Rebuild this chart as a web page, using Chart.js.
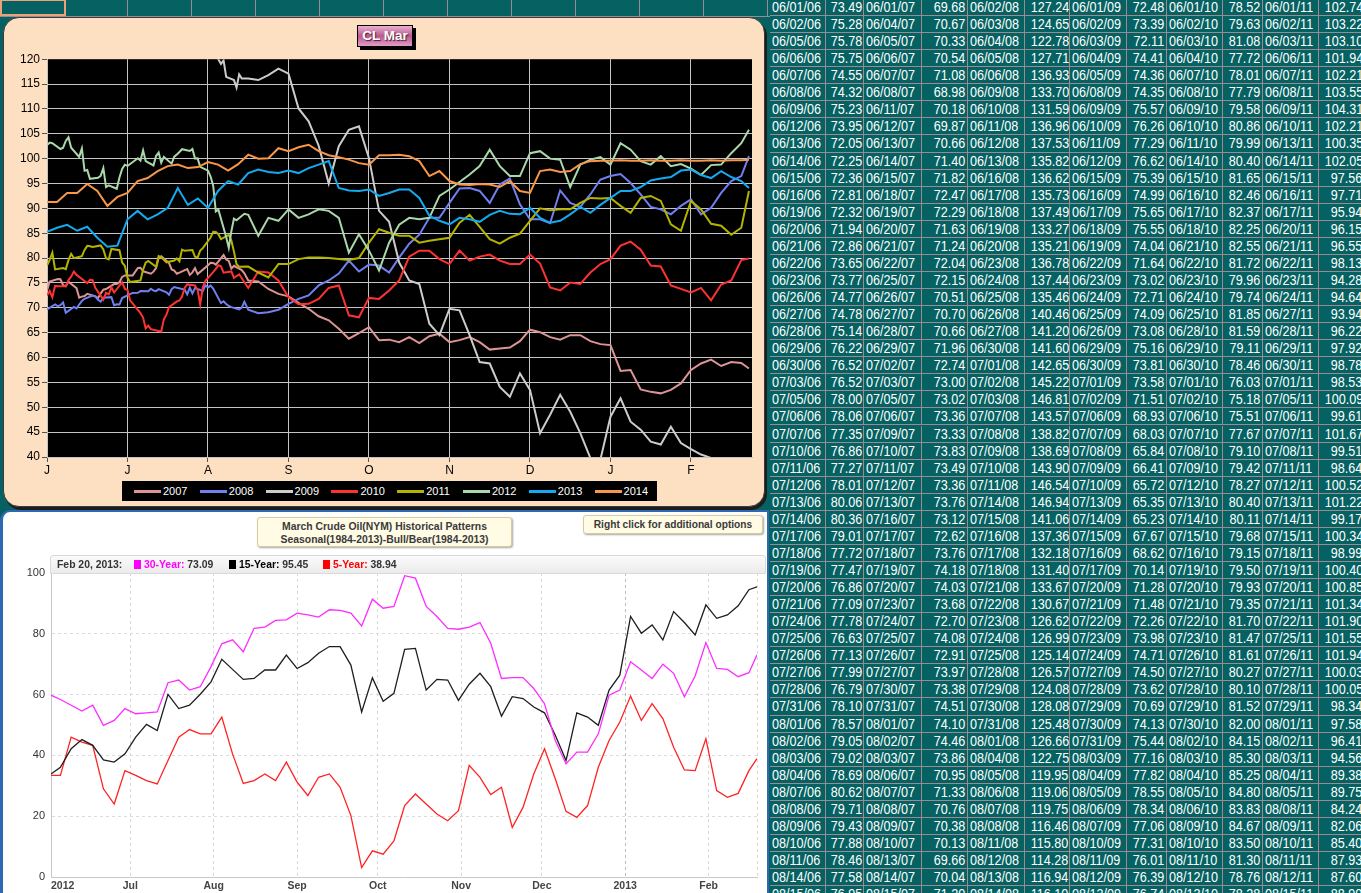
<!DOCTYPE html>
<html>
<head>
<meta charset="utf-8">
<title>CL Mar</title>
<script src="https://cdn.jsdelivr.net/npm/chart.js@4.4.1/dist/chart.umd.min.js"></script>
<style>
  html, body { margin: 0; padding: 0; }
  body { width: 1361px; height: 893px; overflow: hidden; position: relative; background: #066262; font-family: "Liberation Sans", Arial, sans-serif; }
  #topRow { position: absolute; left: 0; top: -1px; width: 770px; height: 18px; border-bottom: 1px solid #9c8a92; box-sizing: border-box; }
  #topRow div { position: absolute; top: 0; height: 17px; width: 64px; border-right: 1px solid #9c8a92; box-sizing: border-box; }
  #topRow .sel { border: 2px solid #e9a27a; width: 66px; }
  #sheet { position: absolute; left: 770px; top: 0; width: 600px; height: 893px; }
  .r { position: absolute; left: 0; width: 600px; height: 17.06px; border-bottom: 1px solid #9c8a92; box-sizing: border-box; }
  .c { position: absolute; top: 0; height: 100%; border-right: 1px solid #9c8a92; box-sizing: border-box; color: #fff; font-size: 14.5px; line-height: 16px; white-space: nowrap; overflow: hidden; }
  .c span { display: inline-block; transform: scaleX(.87); }
  .d { text-align: left; padding-left: 2px; }
  .d span { transform-origin: left center; }
  .v { text-align: right; padding-right: 2px; }
  .v span { transform-origin: right center; }

  #topPanel { position: absolute; left: 3px; top: 17px; width: 762px; height: 490px; background: #fde0c2; border: 1px solid #3a3a3a; border-radius: 16px; box-shadow: 2px 3px 0 #1d1d1d; box-sizing: border-box; }
  #clTitle { position: absolute; left: 357px; top: 25px; width: 56px; height: 22px; box-sizing: border-box; border: 1px solid #000; box-shadow: 3px 3px 0 #000;
             background: linear-gradient(#eab0d2, #b85a90 50%, #e29cc6); color: #fff; font-weight: bold; font-size: 13.5px; line-height: 20px; text-align: center; text-shadow: 1px 1px 1px #402030; }
  #topChart { position: absolute; left: 5px; top: 50px; }
  #topLegend { position: absolute; left: 122px; top: 481px; width: 535px; height: 20px; background: #000; }
  #topLegend .sw { position: absolute; top: 9px; width: 27px; height: 3px; }
  #topLegend .lb { position: absolute; top: 3px; color: #fff; font-size: 11px; line-height: 14px; }

  #bottomPanel { position: absolute; left: 0; top: 510px; width: 769px; height: 400px; background: #fff; border: 2px solid #2f68b2; border-left-width: 3px; border-top-left-radius: 10px; box-sizing: border-box; }
  .note { position: absolute; background: #fffbe4; border: 1px solid #d6cba0; border-radius: 3px; box-shadow: 1px 1px 2px rgba(0,0,0,.35); color: #3a3a3a; font-weight: bold; text-align: center; box-sizing: border-box; }
  #seasTitle { left: 257px; top: 517px; width: 255px; height: 30px; font-size: 10.4px; line-height: 13px; padding-top: 2px; }
  #rightClick { left: 583px; top: 515px; width: 180px; height: 19px; font-size: 10.2px; line-height: 17px; }
  #seasStrip { position: absolute; left: 50px; top: 555px; width: 716px; height: 19px; background: linear-gradient(#fbfbfb, #ebebeb); border: 1px solid #dadada; border-radius: 3px 3px 0 0; box-sizing: border-box; font-size: 10.4px; font-weight: bold; color: #333; }
  #seasStrip span { position: absolute; top: 3px; line-height: 12px; white-space: nowrap; }
  #seasStrip i { display: inline-block; width: 7px; height: 9px; margin-right: 3px; vertical-align: -1px; }
  #seasChart { position: absolute; left: 0; top: 560px; }
</style>
</head>
<body>
<div id="topRow"></div>
<div id="sheet"></div>

<div id="topPanel"></div>
<div id="clTitle">CL Mar</div>
<canvas id="topChart" width="755" height="427"></canvas>
<div id="topLegend"></div>

<div id="bottomPanel"></div>
<div class="note" id="seasTitle">March Crude Oil(NYM) Historical Patterns<br>Seasonal(1984-2013)-Bull/Bear(1984-2013)</div>
<div class="note" id="rightClick">Right click for additional options</div>
<canvas id="seasChart" width="767" height="333"></canvas>
<div id="seasStrip"></div>

<script>
// ---- top chart: CL Mar contracts, month letters on the axis
const monthLetters = ['J', 'J', 'A', 'S', 'O', 'N', 'D', 'J', 'F'];
const seriesNames = ['2007', '2008', '2009', '2010', '2011', '2012', '2013', '2014'];
const seriesColors = ['#dc9494', '#7080f0', '#cccccc', '#ff3232', '#b4b400', '#aad8aa', '#14aaf0', '#fa9648'];

// sheet columns (June - mid August)
const d2007 = ['06/01/06','06/02/06','06/05/06','06/06/06','06/07/06','06/08/06','06/09/06','06/12/06','06/13/06','06/14/06','06/15/06','06/16/06','06/19/06','06/20/06','06/21/06','06/22/06','06/23/06','06/26/06','06/27/06','06/28/06','06/29/06','06/30/06','07/03/06','07/05/06','07/06/06','07/07/06','07/10/06','07/11/06','07/12/06','07/13/06','07/14/06','07/17/06','07/18/06','07/19/06','07/20/06','07/21/06','07/24/06','07/25/06','07/26/06','07/27/06','07/28/06','07/31/06','08/01/06','08/02/06','08/03/06','08/04/06','08/07/06','08/08/06','08/09/06','08/10/06','08/11/06','08/14/06','08/15/06'];
const v2007 = [73.49,75.28,75.78,75.75,74.55,74.32,75.23,73.95,72.05,72.25,72.36,72.81,72.32,71.94,72.86,73.65,73.77,74.77,74.78,75.14,76.22,76.52,76.52,78.00,78.06,77.35,76.86,77.27,78.01,80.06,80.36,79.01,77.72,77.47,76.86,77.09,77.78,76.63,77.13,77.99,76.79,78.10,78.57,79.05,79.02,78.69,80.62,79.71,79.43,77.88,78.46,77.58,76.95];
const d2008 = ['06/01/07','06/04/07','06/05/07','06/06/07','06/07/07','06/08/07','06/11/07','06/12/07','06/13/07','06/14/07','06/15/07','06/18/07','06/19/07','06/20/07','06/21/07','06/22/07','06/25/07','06/26/07','06/27/07','06/28/07','06/29/07','07/02/07','07/03/07','07/05/07','07/06/07','07/09/07','07/10/07','07/11/07','07/12/07','07/13/07','07/16/07','07/17/07','07/18/07','07/19/07','07/20/07','07/23/07','07/24/07','07/25/07','07/26/07','07/27/07','07/30/07','07/31/07','08/01/07','08/02/07','08/03/07','08/06/07','08/07/07','08/08/07','08/09/07','08/10/07','08/13/07','08/14/07','08/15/07'];
const v2008 = [69.68,70.67,70.33,70.54,71.08,68.98,70.18,69.87,70.66,71.40,71.82,72.47,72.29,71.63,71.24,72.04,72.15,70.51,70.70,70.66,71.96,72.74,73.00,73.02,73.36,73.33,73.83,73.49,73.36,73.76,73.12,72.62,73.76,74.18,74.03,73.68,72.70,74.08,72.91,73.97,73.38,74.51,74.10,74.46,73.86,70.95,71.33,70.76,70.38,70.13,69.66,70.04,71.20];
const d2009 = ['06/02/08','06/03/08','06/04/08','06/05/08','06/06/08','06/09/08','06/10/08','06/11/08','06/12/08','06/13/08','06/16/08','06/17/08','06/18/08','06/19/08','06/20/08','06/23/08','06/24/08','06/25/08','06/26/08','06/27/08','06/30/08','07/01/08','07/02/08','07/03/08','07/07/08','07/08/08','07/09/08','07/10/08','07/11/08','07/14/08','07/15/08','07/16/08','07/17/08','07/18/08','07/21/08','07/22/08','07/23/08','07/24/08','07/25/08','07/28/08','07/29/08','07/30/08','07/31/08','08/01/08','08/04/08','08/05/08','08/06/08','08/07/08','08/08/08','08/11/08','08/12/08','08/13/08','08/14/08'];
const v2009 = [127.24,124.65,122.78,127.71,136.93,133.70,131.59,136.96,137.53,135.82,136.62,135.73,137.49,133.27,135.21,136.78,137.44,135.46,140.46,141.20,141.60,142.65,145.22,146.81,143.57,138.82,138.69,143.90,146.54,146.94,141.06,137.36,132.18,131.40,133.67,130.67,126.62,126.99,125.14,126.57,124.08,128.08,125.48,126.66,122.75,119.95,119.06,119.75,116.46,115.80,114.28,116.94,116.10];
const d2010 = ['06/01/09','06/02/09','06/03/09','06/04/09','06/05/09','06/08/09','06/09/09','06/10/09','06/11/09','06/12/09','06/15/09','06/16/09','06/17/09','06/18/09','06/19/09','06/22/09','06/23/09','06/24/09','06/25/09','06/26/09','06/29/09','06/30/09','07/01/09','07/02/09','07/06/09','07/07/09','07/08/09','07/09/09','07/10/09','07/13/09','07/14/09','07/15/09','07/16/09','07/17/09','07/20/09','07/21/09','07/22/09','07/23/09','07/24/09','07/27/09','07/28/09','07/29/09','07/30/09','07/31/09','08/03/09','08/04/09','08/05/09','08/06/09','08/07/09','08/10/09','08/11/09','08/12/09','08/13/09'];
const v2010 = [72.48,73.39,72.11,74.41,74.36,74.35,75.57,76.26,77.29,76.62,75.39,74.99,75.65,75.55,74.04,71.64,73.02,72.71,74.09,73.08,75.16,73.81,73.58,71.51,68.93,68.03,65.84,66.41,65.72,65.35,65.23,67.67,68.62,70.14,71.28,71.48,72.26,73.98,74.71,74.50,73.62,70.69,74.13,75.44,77.16,77.82,78.55,78.34,77.06,77.31,76.01,76.39,76.74];
const d2011 = ['06/01/10','06/02/10','06/03/10','06/04/10','06/07/10','06/08/10','06/09/10','06/10/10','06/11/10','06/14/10','06/15/10','06/16/10','06/17/10','06/18/10','06/21/10','06/22/10','06/23/10','06/24/10','06/25/10','06/28/10','06/29/10','06/30/10','07/01/10','07/02/10','07/06/10','07/07/10','07/08/10','07/09/10','07/12/10','07/13/10','07/14/10','07/15/10','07/16/10','07/19/10','07/20/10','07/21/10','07/22/10','07/23/10','07/26/10','07/27/10','07/28/10','07/29/10','07/30/10','08/02/10','08/03/10','08/04/10','08/05/10','08/06/10','08/09/10','08/10/10','08/11/10','08/12/10','08/13/10'];
const v2011 = [78.52,79.63,81.08,77.72,78.01,77.79,79.58,80.86,79.99,80.40,81.65,82.46,82.37,82.25,82.55,81.72,79.96,79.74,81.85,81.59,79.11,78.46,76.03,75.18,75.51,77.67,79.10,79.42,78.27,80.40,80.11,79.68,79.15,79.50,79.93,79.35,81.70,81.47,81.61,80.27,80.10,81.52,82.00,84.15,85.30,85.25,84.80,83.83,84.67,83.50,81.30,78.76,78.28];
const d2012 = ['06/01/11','06/02/11','06/03/11','06/06/11','06/07/11','06/08/11','06/09/11','06/10/11','06/13/11','06/14/11','06/15/11','06/16/11','06/17/11','06/20/11','06/21/11','06/22/11','06/23/11','06/24/11','06/27/11','06/28/11','06/29/11','06/30/11','07/01/11','07/05/11','07/06/11','07/07/11','07/08/11','07/11/11','07/12/11','07/13/11','07/14/11','07/15/11','07/18/11','07/19/11','07/20/11','07/21/11','07/22/11','07/25/11','07/26/11','07/27/11','07/28/11','07/29/11','08/01/11','08/02/11','08/03/11','08/04/11','08/05/11','08/08/11','08/09/11','08/10/11','08/11/11','08/12/11','08/15/11'];
const v2012 = [102.74,103.22,103.10,101.94,102.21,103.55,104.31,102.21,100.35,102.05,97.56,97.71,95.94,96.15,96.55,98.13,94.28,94.64,93.94,96.22,97.92,98.78,98.53,100.09,99.61,101.67,99.51,98.64,100.52,101.22,99.17,100.34,98.99,100.40,100.85,101.34,101.90,101.55,101.94,100.03,100.05,98.34,97.58,96.41,94.56,89.38,89.75,84.24,82.06,85.40,87.93,87.60,88.90];

// positions, in months from June 1
const gridX = [0,0.125,0.25,0.375,0.5,0.625,0.75,0.875,1,1.125,1.25,1.375,1.5,1.625,1.75,1.875,2,2.125,2.25,2.375,2.5,2.625,2.75,2.875,3,3.125,3.25,3.375,3.5,3.625,3.75,3.875,4,4.125,4.25,4.375,4.5,4.625,4.75,4.875,5,5.125,5.25,5.375,5.5,5.625,5.75,5.875,6,6.125,6.25,6.375,6.5,6.625,6.75,6.875,7,7.125,7.25,7.375,7.5,7.625,7.75,7.875,8,8.125,8.25,8.375,8.5,8.625,8.72];

// rest of each contract after the sheet ends (gridX[20] onward)
const t2007 = [75.5,75.3,73.8,72.8,72.3,71.0,69.8,68.3,67.5,65.8,63.8,64.9,66.1,63.5,63.6,63.1,64.1,62.9,64.3,64.8,63.1,63.5,64.1,63.1,61.6,61.8,62.0,63.3,65.6,65.1,64.1,63.6,64.5,64.5,63.3,62.7,62.5,57.3,57.5,53.6,53.1,52.8,53.5,54.8,57.5,58.8,59.6,58.3,59.1,58.9,57.8];
const t2008 = [69.6,68.9,69.1,69.6,70.8,71.8,72.5,74.5,75.5,76.9,79.5,77.3,78.7,78.5,77.1,80.1,82.9,84.7,88.1,88.1,91.1,94.0,94.1,93.5,91.1,94.8,96.0,90.8,87.8,87.8,87.0,93.6,91.1,90.3,92.8,95.8,96.5,96.9,95.1,92.8,90.3,89.8,88.8,90.5,91.8,88.8,90.1,93.1,95.5,96.5,100.5];
const t2009 = [116.1,115.8,116.8,118.1,117.1,110.1,107.5,102.6,95.0,102.5,105.8,106.5,100.1,89.5,87.3,79.1,75.5,74.8,66.8,64.5,69.8,69.5,64.5,59.1,58.8,54.1,52.1,56.8,53.5,44.8,48.5,52.5,49.1,44.8,39.8,39.5,48.1,51.8,47.1,45.5,43.1,42.5,46.1,42.8,41.6,40.5,39.8,38.8,38.0,37.5,37.0];
const t2010 = [74.0,77.3,77.1,75.5,72.1,70.7,70.8,71.8,74.0,74.5,68.5,68.1,72.0,71.8,73.5,75.5,80.3,81.5,81.5,79.8,78.8,81.5,79.5,80.3,80.7,79.5,78.8,78.8,80.7,78.9,74.1,73.5,75.1,74.8,77.1,78.8,79.8,82.5,83.3,81.7,78.5,78.3,74.5,73.8,73.1,74.0,71.5,74.7,75.5,79.6,79.9];
const t2011 = [78.3,77.1,76.1,78.8,78.8,79.8,80.1,80.1,80.0,79.8,79.6,80.0,83.1,85.8,85.1,84.5,84.5,83.1,83.5,83.8,84.1,87.1,88.7,86.3,83.8,82.9,84.1,84.9,87.5,90.0,89.6,89.8,89.8,91.1,92.1,92.0,92.1,90.5,89.1,92.1,92.5,91.5,86.8,85.5,91.5,89.8,86.9,86.5,84.7,86.1,93.5];
const t2012 = [88.7,84.5,88.1,87.5,89.8,88.1,88.8,89.8,89.5,88.1,81.1,84.8,81.5,77.5,83.1,86.7,88.1,87.8,88.1,92.5,93.8,95.3,96.8,98.5,101.8,98.5,96.5,96.5,101.1,101.5,100.0,99.8,94.3,98.8,99.8,100.3,98.8,103.1,101.8,99.5,98.8,100.5,98.5,98.9,98.0,96.7,98.7,98.8,101.1,103.1,105.8];
// the two contracts not on the sheet, on the whole grid
const f2013 = [85.3,86.1,86.7,85.5,86.3,84.1,82.3,82.5,87.8,89.5,87.8,88.8,90.1,94.1,90.7,92.0,90.1,93.5,95.5,94.8,97.1,97.8,97.3,97.1,97.6,97.1,98.1,98.8,99.5,94.1,93.6,93.5,93.8,92.5,93.1,93.8,93.8,92.1,88.5,87.5,86.8,88.1,87.8,87.3,88.7,89.5,88.9,88.8,90.1,88.1,87.1,87.5,88.8,90.3,89.1,90.7,92.1,93.5,93.5,94.3,95.6,96.0,96.3,97.6,97.8,96.7,96.1,97.5,96.3,95.5,94.1];
const f2014 = [91.3,91.3,93.1,93.1,94.9,93.5,90.5,92.3,93.1,95.5,96.1,97.5,98.5,98.8,98.1,98.3,99.3,98.8,97.6,98.9,100.8,100.0,100.1,102.1,101.5,102.3,102.8,101.5,100.7,100.3,99.8,99.1,98.8,100.7,100.7,100.8,100.5,99.5,96.5,97.5,95.5,94.8,94.7,94.9,94.8,94.3,95.5,93.5,93.1,97.5,97.8,97.3,97.5,98.9,99.5,99.6,99.6,99.7,99.6,99.6,99.7,99.6,99.6,99.7,99.6,99.6,99.7,99.6,99.7,99.7,99.8];

// ---- bottom chart: seasonal patterns, days from June 1 2012
const seasTickDays = [0.5, 30, 61, 92, 122, 153, 183, 214, 245, 263];
const seasTickLabels = ['2012', 'Jul', 'Aug', 'Sep', 'Oct', 'Nov', 'Dec', '2013', 'Feb', ''];
const seasDays = [0.5,4,8,12,16,20,24,28,32,36,40,44,48,52,56,60,64,68,72,76,80,84,88,92,96,100,104,108,112,116,120,124,128,132,136,140,144,148,152,156,160,164,168,172,176,180,184,188,192,196,200,204,208,212,216,220,224,228,232,236,240,244,248,252,256,260,263];
const seas30 = [59.8,58.4,56.5,54.6,56.5,49.9,51.5,55.4,53.7,54.0,54.3,63.9,64.8,61.5,62.6,69.2,76.7,78.0,74.1,81.8,82.2,84.4,84.6,86.8,86.2,85.5,87.9,87.7,86.8,82.6,91.4,88.4,89.0,99.1,98.3,89.0,85.7,81.8,81.5,82.2,83.7,76.9,65.3,65.6,65.6,62.0,57.0,44.9,37.2,41.1,41.1,47.1,59.8,61.5,70.8,68.1,65.3,70.0,67.0,59.3,66.1,77.1,68.6,68.3,65.9,67.2,73.09];
const seas15 = [33.9,36.1,42.2,45.2,43.3,38.5,37.8,40.5,46.0,50.2,48.2,60.1,55.4,56.5,60.1,64.2,71.6,68.3,65.0,65.3,68.1,68.1,73.0,68.6,70.5,73.6,75.8,75.8,69.7,54.3,65.5,57.8,60.4,74.9,75.2,61.5,65.0,64.8,58.1,63.4,67.0,62.6,52.9,59.3,58.7,55.9,54.0,46.6,38.3,54.0,52.6,49.9,61.5,66.4,85.7,80.2,82.9,78.0,87.3,83.7,79.6,89.5,85.1,86.2,89.2,94.5,95.45];
const seas5 = [33.4,33.4,46.0,44.4,43.3,29.0,24.0,35.0,33.4,31.7,30.6,38.3,46.0,48.5,47.1,47.1,52.6,40.5,30.8,31.7,33.9,31.7,37.8,31.2,26.8,32.8,33.9,29.5,20.2,3.1,8.6,7.5,11.9,23.5,27.3,24.0,20.7,18.5,21.8,36.7,32.8,27.1,29.5,16.3,22.9,33.9,42.2,32.3,21.6,19.6,23.5,36.1,44.9,51.0,59.5,51.5,57.0,52.1,42.7,35.2,35.0,45.5,28.4,26.2,27.5,35.0,38.94];

const FONT = '"Liberation Sans", Arial, sans-serif';

// date string -> months after June 1
function monthPos(s) {
    const m = +s.slice(0, 2), day = +s.slice(3, 5);
    const idx = m >= 6 ? m - 6 : m + 6;
    const len = [30, 31, 31, 30, 31, 30, 31, 31, 28][idx];
    return idx + (day - 1) / len;
}

// 1. spreadsheet
const sheetCols = [d2007, v2007, d2008, v2008, d2009, v2009, d2010, v2010, d2011, v2011, d2012, v2012];
const colW = [56, 38, 58, 46, 57, 45, 57, 40, 56, 40, 56, 46];
const sheet = document.getElementById('sheet');
for (let r = 0; r < d2007.length; r++) {
    const row = document.createElement('div');
    row.className = 'r';
    row.style.top = (r * 17.06 - 1) + 'px';
    let left = 0;
    sheetCols.forEach((col, c) => {
        const cell = document.createElement('div');
        cell.className = 'c ' + (c % 2 === 0 ? 'd' : 'v');
        cell.style.left = left + 'px';
        cell.style.width = colW[c] + 'px';
        const txt = c % 2 === 0 ? col[r] : col[r].toFixed(2);
        cell.innerHTML = '<span>' + txt + '</span>';
        row.appendChild(cell);
        left += colW[c];
    });
    sheet.appendChild(row);
}
const topRow = document.getElementById('topRow');
for (let i = 0; i < 12; i++) {
    const cell = document.createElement('div');
    cell.style.left = (i * 64) + 'px';
    if (i === 0) cell.className = 'sel';
    topRow.appendChild(cell);
}

// 2. top chart
const sheetDates = [d2007, d2008, d2009, d2010, d2011, d2012];
const sheetValues = [v2007, v2008, v2009, v2010, v2011, v2012];
const tails = [t2007, t2008, t2009, t2010, t2011, t2012];
const topData = sheetDates.map((dates, i) =>
    dates.map((s, j) => ({ x: monthPos(s), y: sheetValues[i][j] }))
        .concat(tails[i].map((y, j) => ({ x: gridX[20 + j], y: y })))
);
topData.push(f2013.map((y, j) => ({ x: gridX[j], y: y })));
topData.push(f2014.map((y, j) => ({ x: gridX[j], y: y })));

const blackPlot = {
    id: 'blackPlot',
    beforeDraw(chart) {
        const a = chart.chartArea;
        chart.ctx.save();
        chart.ctx.fillStyle = '#000';
        chart.ctx.fillRect(a.left, a.top, a.right - a.left, a.bottom - a.top);
        chart.ctx.restore();
    }
};

new Chart(document.getElementById('topChart'), {
    type: 'line',
    data: {
        datasets: seriesNames.map((name, i) => ({
            label: name,
            data: topData[i],
            borderColor: seriesColors[i],
            borderWidth: 2,
            pointRadius: 0,
            tension: 0,
            order: seriesNames.length - i,
        })),
    },
    options: {
        responsive: false,
        animation: false,
        layout: { padding: { top: 7, right: 8, left: 0, bottom: 0 } },
        plugins: { legend: { display: false }, tooltip: { enabled: false } },
        scales: {
            x: {
                type: 'linear', min: 0, max: 8.758,
                afterBuildTicks: (s) => { s.ticks = monthLetters.map((_, i) => ({ value: i })); },
                afterFit: (s) => { s.height = 20; },
                ticks: { callback: (v, i) => monthLetters[i], autoSkip: false, maxRotation: 0, color: '#000', padding: 1, font: { family: FONT, size: 12 } },
                grid: { color: '#c4c4c4', tickColor: '#555', tickLength: 5 },
                border: { color: '#c4c4c4' },
            },
            y: {
                min: 40, max: 120,
                afterFit: (s) => { s.width = 42; },
                ticks: { stepSize: 5, color: '#000', padding: 2, font: { family: FONT, size: 12 } },
                grid: { color: (c) => (c.tick && c.tick.value === 120 ? 'rgba(0,0,0,0)' : '#c4c4c4'), tickColor: '#555', tickLength: 5 },
                border: { color: '#c4c4c4' },
            },
        },
    },
    plugins: [blackPlot],
});

const legend = document.getElementById('topLegend');
seriesNames.forEach((name, i) => {
    const sw = document.createElement('div');
    sw.className = 'sw';
    sw.style.left = (12 + i * 65.8) + 'px';
    sw.style.background = seriesColors[i];
    const lb = document.createElement('div');
    lb.className = 'lb';
    lb.style.left = (41 + i * 65.8) + 'px';
    lb.textContent = name;
    legend.appendChild(sw);
    legend.appendChild(lb);
});

// 3. seasonal chart
const seasLines = [
    { label: '30-Year', values: seas30, color: '#ff2cff' },
    { label: '15-Year', values: seas15, color: '#1e1e1e' },
    { label: '5-Year', values: seas5, color: '#ff2222' },
];

new Chart(document.getElementById('seasChart'), {
    type: 'line',
    data: {
        datasets: seasLines.map((s) => ({
            label: s.label,
            data: seasDays.map((d, i) => ({ x: d, y: s.values[i] })),
            borderColor: s.color,
            borderWidth: 1.3,
            pointRadius: 0,
            tension: 0,
        })),
    },
    options: {
        responsive: false,
        animation: false,
        layout: { padding: { top: 13, right: 10, left: 0, bottom: 0 } },
        plugins: { legend: { display: false }, tooltip: { enabled: false } },
        scales: {
            x: {
                type: 'linear', min: 0.5, max: 263,
                afterBuildTicks: (s) => { s.ticks = seasTickDays.map((v) => ({ value: v })); },
                afterFit: (s) => { s.height = 16; },
                ticks: { callback: (v, i) => seasTickLabels[i], align: 'inner', autoSkip: false, maxRotation: 0, color: '#444', padding: 3, font: { family: FONT, size: 10.5, weight: 'bold' } },
                grid: {
                    drawTicks: false,
                    color: (c) => {
                        const v = c.tick ? c.tick.value : null;
                        if (v === 0.5) return 'rgba(0,0,0,0)';
                        if (v === 214) return '#bbbbbb';
                        return '#d8d8d8';
                    },
                },
                border: { color: '#c8c8c8', dash: [3, 3] },
            },
            y: {
                min: 0, max: 100,
                afterFit: (s) => { s.width = 51; },
                ticks: { stepSize: 20, color: '#333', padding: 6, font: { family: FONT, size: 11 } },
                grid: { drawTicks: false, color: '#dcdcdc' },
                border: { color: '#c8c8c8', dash: [3, 3] },
            },
        },
    },
});

const strip = document.getElementById('seasStrip');
const last = (arr) => arr[arr.length - 1].toFixed(2);
strip.innerHTML =
    '<span style="left:6px">Feb 20, 2013:</span>' +
    '<span style="left:83px"><i style="background:#ff00ff"></i><b style="color:#ff00ff">30-Year:</b> ' + last(seas30) + '</span>' +
    '<span style="left:178px"><i style="background:#000"></i><b style="color:#000">15-Year:</b> ' + last(seas15) + '</span>' +
    '<span style="left:272px"><i style="background:#ff0000"></i><b style="color:#ff0000">5-Year:</b> ' + last(seas5) + '</span>';
</script>
</body>
</html>
